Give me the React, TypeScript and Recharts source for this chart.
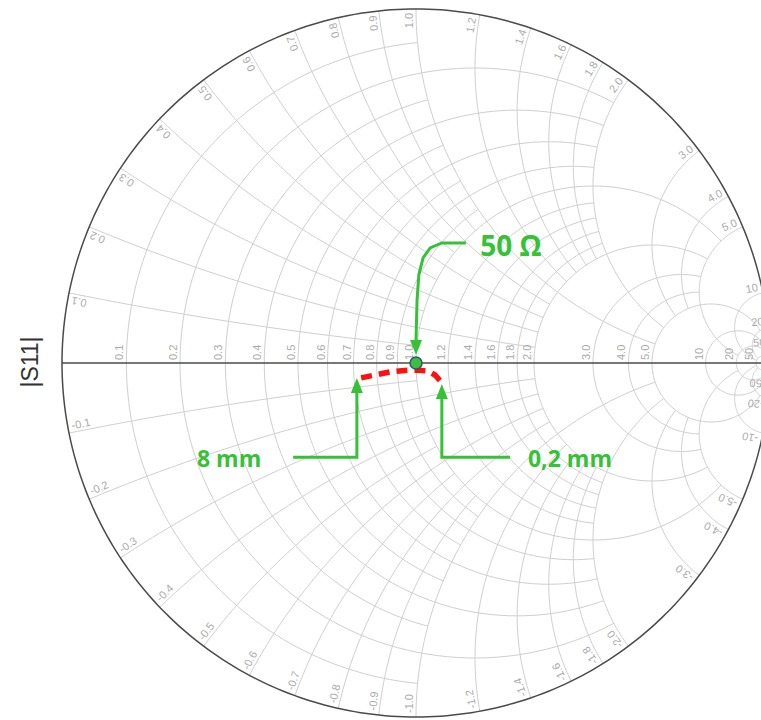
import React from "react";
import { ComposedChart, Line, Scatter, XAxis, YAxis, ReferenceDot } from "recharts";

// grid values (used for both resistance circles and reactance arcs)
const gridValues = [0.1, 0.2, 0.3, 0.4, 0.5, 0.6, 0.7, 0.8, 0.9, 1.0, 1.2, 1.4, 1.6, 1.8, 2.0, 3, 4, 5, 10, 20, 50];
// how far each circle / arc runs along the other coordinate
const gridReach = [1, 2, 1, 2, 1, 2, 1, 2, 1, 5, 2, 2, 2, 2, 5, 5, 5, 20, 50, 50, Infinity];
const gridLabels = ["0.1", "0.2", "0.3", "0.4", "0.5", "0.6", "0.7", "0.8", "0.9", "1.0", "1.2", "1.4", "1.6", "1.8", "2.0", "3.0", "4.0", "5.0", "10", "20", "50"];

// measured S11 trace (reflection coefficient, re / im)
const traceRe = [-0.155, -0.116, -0.073, -0.031, 0.006, 0.034, 0.054, 0.073];
const traceIm = [-0.042, -0.034, -0.025, -0.021, -0.020, -0.023, -0.034, -0.056];

// 50 ohm match point
const matchRe = 0;
const matchIm = 0;

// annotations
const noteTexts = ["50 Ω", "8 mm", "0,2 mm"];
const noteRe = [0.268, -0.528, 0.435];
const noteIm = [0.333, -0.268, -0.268];
const leaderRe = [
  [0.141, 0.073, 0.04, 0.02, 0.008, 0.003, 0],
  [-0.347, -0.167, -0.167],
  [0.266, 0.073, 0.073],
];
const leaderIm = [
  [0.339, 0.339, 0.325, 0.297, 0.249, 0.178, 0.065],
  [-0.266, -0.266, -0.085],
  [-0.266, -0.266, -0.102],
];
const leaderTip = ["down", "up", "up"];

const GRID = "#cfcfcf";
const RIM = "#4a4a4a";
const LABEL = "#ababab";
const GREEN = "#36c236";
const RED = "#ff1010";
const PX = 354;
const HALF = Math.PI / 2 - 1e-9;

function gamma(r: number, x: number) {
  const c = r + 1;
  const den = c * c + x * x;
  return { x: ((r - 1) * c + x * x) / den, y: (2 * x) / den };
}

function resistanceCircle(r: number, reach: number, n = 120) {
  const s0 = reach === Infinity ? HALF : Math.atan(reach / (1 + r));
  const pts = [];
  for (let i = 0; i <= n; i++) {
    const s = -s0 + (2 * s0 * i) / n;
    pts.push(gamma(r, (1 + r) * Math.tan(s)));
  }
  return pts;
}

function reactanceArc(x: number, reach: number, n = 80) {
  const ax = Math.abs(x);
  const s0 = Math.atan(1 / ax);
  const s1 = reach === Infinity ? HALF : Math.atan((reach + 1) / ax);
  const pts = [];
  for (let i = 0; i <= n; i++) {
    const s = s0 + ((s1 - s0) * i) / n;
    pts.push(gamma(Math.max(0, ax * Math.tan(s) - 1), x));
  }
  return pts;
}

const rCircles = gridValues.map((v, i) => resistanceCircle(v, gridReach[i]));
const xArcs = gridValues.flatMap((v, i) => [reactanceArc(v, gridReach[i]), reactanceArc(-v, gridReach[i])]);
const rim = resistanceCircle(0, Infinity, 360);
const axisLine = [{ x: -1, y: 0 }, { x: 1, y: 0 }];

const rLabelData = gridValues.map((v, i) => ({ x: (v - 1) / (v + 1), y: 0, text: gridLabels[i] }));
const rimLabelData = gridValues.flatMap((v, i) =>
  [1, -1].map((sg) => {
    const g = gamma(0, sg * v);
    return { x: g.x, y: g.y, theta: Math.atan2(g.y, g.x), text: (sg < 0 ? "-" : "") + gridLabels[i] };
  })
);
const traceData = traceRe.map((re, i) => ({ x: re, y: traceIm[i] }));
const noteData = noteTexts.map((t, i) => ({ x: noteRe[i], y: noteIm[i], text: t }));
const leaders = leaderRe.map((xs, k) =>
  xs.map((re, i) => ({ x: re, y: leaderIm[k][i], tip: i === xs.length - 1 ? leaderTip[k] : null }))
);

function AxisLabel(props: any) {
  const { cx, cy, payload } = props;
  return (
    <text transform={`translate(${cx - 3},${cy - 3}) rotate(-90)`} fontSize={11} fill={LABEL}
      fontFamily="'Liberation Sans', Arial, sans-serif">
      {payload.text}
    </text>
  );
}

function RimLabel(props: any) {
  const { cx, cy, payload } = props;
  const th = payload.theta;
  const upper = th > 0;
  const a = upper ? -th : Math.atan2(Math.sin(th), -Math.cos(th));
  const gx = Math.sin(a);
  const gy = -Math.cos(a);
  const px = cx - 4 * Math.cos(th) + 3 * gx;
  const py = cy + 4 * Math.sin(th) + 3 * gy;
  return (
    <text transform={`translate(${px},${py}) rotate(${(a * 180) / Math.PI})`} textAnchor={upper ? "end" : "start"}
      fontSize={11} fill={LABEL} fontFamily="'Liberation Sans', Arial, sans-serif">
      {payload.text}
    </text>
  );
}

function NoteLabel(props: any) {
  const { cx, cy, payload } = props;
  return (
    <text x={cx} y={cy} textAnchor="middle" dominantBaseline="central" fontSize={payload.text === "50 Ω" ? 28 : 23}
      fontWeight={700} fill={GREEN} fontFamily="'Open Sans', sans-serif">
      {payload.text}
    </text>
  );
}

function ArrowDot(props: any) {
  const { cx, cy, payload, index } = props;
  if (!payload || !payload.tip) return <g key={index} />;
  const d = payload.tip === "up" ? -1 : 1;
  return <polygon key={index} points={`${cx - 6},${cy} ${cx + 6},${cy} ${cx},${cy + d * 15}`} fill={GREEN} />;
}

export default function App() {
  return (
    <div style={{ position: "fixed", left: 0, top: 0, width: 761, height: 720, overflow: "hidden", background: "#fff" }}>
      <div style={{ position: "absolute", left: 8, top: 8 }}>
        <ComposedChart width={770} height={2 * PX + 4} margin={{ top: 0, right: 0, bottom: 0, left: 0 }}>
          <XAxis type="number" dataKey="x" hide domain={[-1 - 8 / PX, 1 + 8 / PX]} />
          <YAxis type="number" dataKey="y" width={46} tick={false} axisLine={false} tickLine={false}
            domain={[-1 - 3 / PX, 1 + 1 / PX]}
            label={{
              content: () => (
                <text x={30} y={354} transform="rotate(-90 30 354)" textAnchor="middle" fontSize={23} fill="#333"
                  fontFamily="'Liberation Sans', Arial, sans-serif">
                  |S11|
                </text>
              ),
            }} />
          {rCircles.map((pts, i) => (
            <Line key={"r" + i} data={pts} dataKey="y" stroke={GRID} strokeWidth={1} dot={false} activeDot={false}
              isAnimationActive={false} legendType="none" />
          ))}
          {xArcs.map((pts, i) => (
            <Line key={"x" + i} data={pts} dataKey="y" stroke={GRID} strokeWidth={1} dot={false} activeDot={false}
              isAnimationActive={false} legendType="none" />
          ))}
          <Line data={axisLine} dataKey="y" stroke={RIM} strokeWidth={1.5} dot={false} activeDot={false} isAnimationActive={false} />
          <Line data={rim} dataKey="y" stroke={RIM} strokeWidth={1.5} dot={false} activeDot={false} isAnimationActive={false} />
          <Scatter data={rLabelData} shape={AxisLabel} isAnimationActive={false} />
          <Scatter data={rimLabelData} shape={RimLabel} isAnimationActive={false} />
          <Line data={traceData} dataKey="y" stroke={RED} strokeWidth={5.5} strokeDasharray="11 7" dot={false}
            activeDot={false} isAnimationActive={false} />
          {leaders.map((pts, i) => (
            <Line key={"l" + i} data={pts} dataKey="y" stroke={GREEN} strokeWidth={3} dot={ArrowDot} activeDot={false}
              isAnimationActive={false} />
          ))}
          <ReferenceDot x={matchRe} y={matchIm} r={6} fill="#3cbf3c" stroke="#2b5a70" strokeWidth={1.5} />
          <Scatter data={noteData} shape={NoteLabel} isAnimationActive={false} />
        </ComposedChart>
      </div>
    </div>
  );
}
